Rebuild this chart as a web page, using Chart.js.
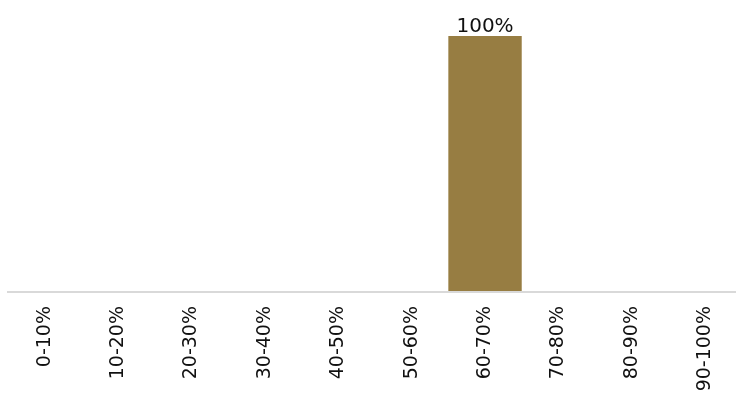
<!DOCTYPE html>
<html>
<head>
<meta charset="utf-8">
<script src="https://cdn.jsdelivr.net/npm/chart.js@4/dist/chart.umd.min.js"></script>
<style>
  html, body { margin: 0; padding: 0; background: #fff; overflow: hidden; }
  #wrap { position: relative; width: 742px; height: 398px; }
</style>
</head>
<body>
<div id="wrap"><canvas id="chart"></canvas></div>
<script>
// Share of items per score band
const bands = ['0-10%', '10-20%', '20-30%', '30-40%', '40-50%', '50-60%', '60-70%', '70-80%', '80-90%', '90-100%'];
const shares = [0, 0, 0, 0, 0, 0, 100, 0, 0, 0];

const FONT = "'DejaVu Sans', sans-serif";

// Value labels above non-empty bars
const barLabels = {
  id: 'barLabels',
  afterDatasetsDraw(chart) {
    const ctx = chart.ctx;
    const meta = chart.getDatasetMeta(0);
    ctx.save();
    ctx.font = '20px ' + FONT;
    ctx.fillStyle = '#111';
    ctx.textAlign = 'center';
    ctx.textBaseline = 'alphabetic';
    meta.data.forEach((bar, i) => {
      if (!shares[i]) return;
      ctx.fillText(shares[i] + '%', bar.x, bar.y - 4);
    });
    ctx.restore();
  }
};

new Chart(document.getElementById('chart'), {
  type: 'bar',
  data: {
    labels: bands,
    datasets: [{
      data: shares,
      backgroundColor: '#977d42',
      borderWidth: 0,
      inflateAmount: 0,
      barPercentage: 1.0,
      categoryPercentage: 1.0
    }]
  },
  options: {
    responsive: true,
    maintainAspectRatio: false,
    animation: false,
    layout: { padding: { left: 8, right: 0, top: 36, bottom: 0 } },
    plugins: { legend: { display: false }, tooltip: { enabled: false } },
    scales: {
      x: {
        grid: { display: false, drawTicks: false },
        border: { display: true, color: '#d9d9d9', width: 2, z: 1 },
        ticks: {
          color: '#111',
          font: { family: FONT, size: 19 },
          minRotation: 90,
          maxRotation: 90,
          padding: 14,
          autoSkip: false
        },
        // keep the axis line at a fixed height; long labels run off the bottom
        afterFit(scale) { scale.height = 106; }
      },
      y: {
        display: false,
        min: 0,
        max: 100
      }
    }
  },
  plugins: [barLabels]
});
</script>
</body>
</html>
